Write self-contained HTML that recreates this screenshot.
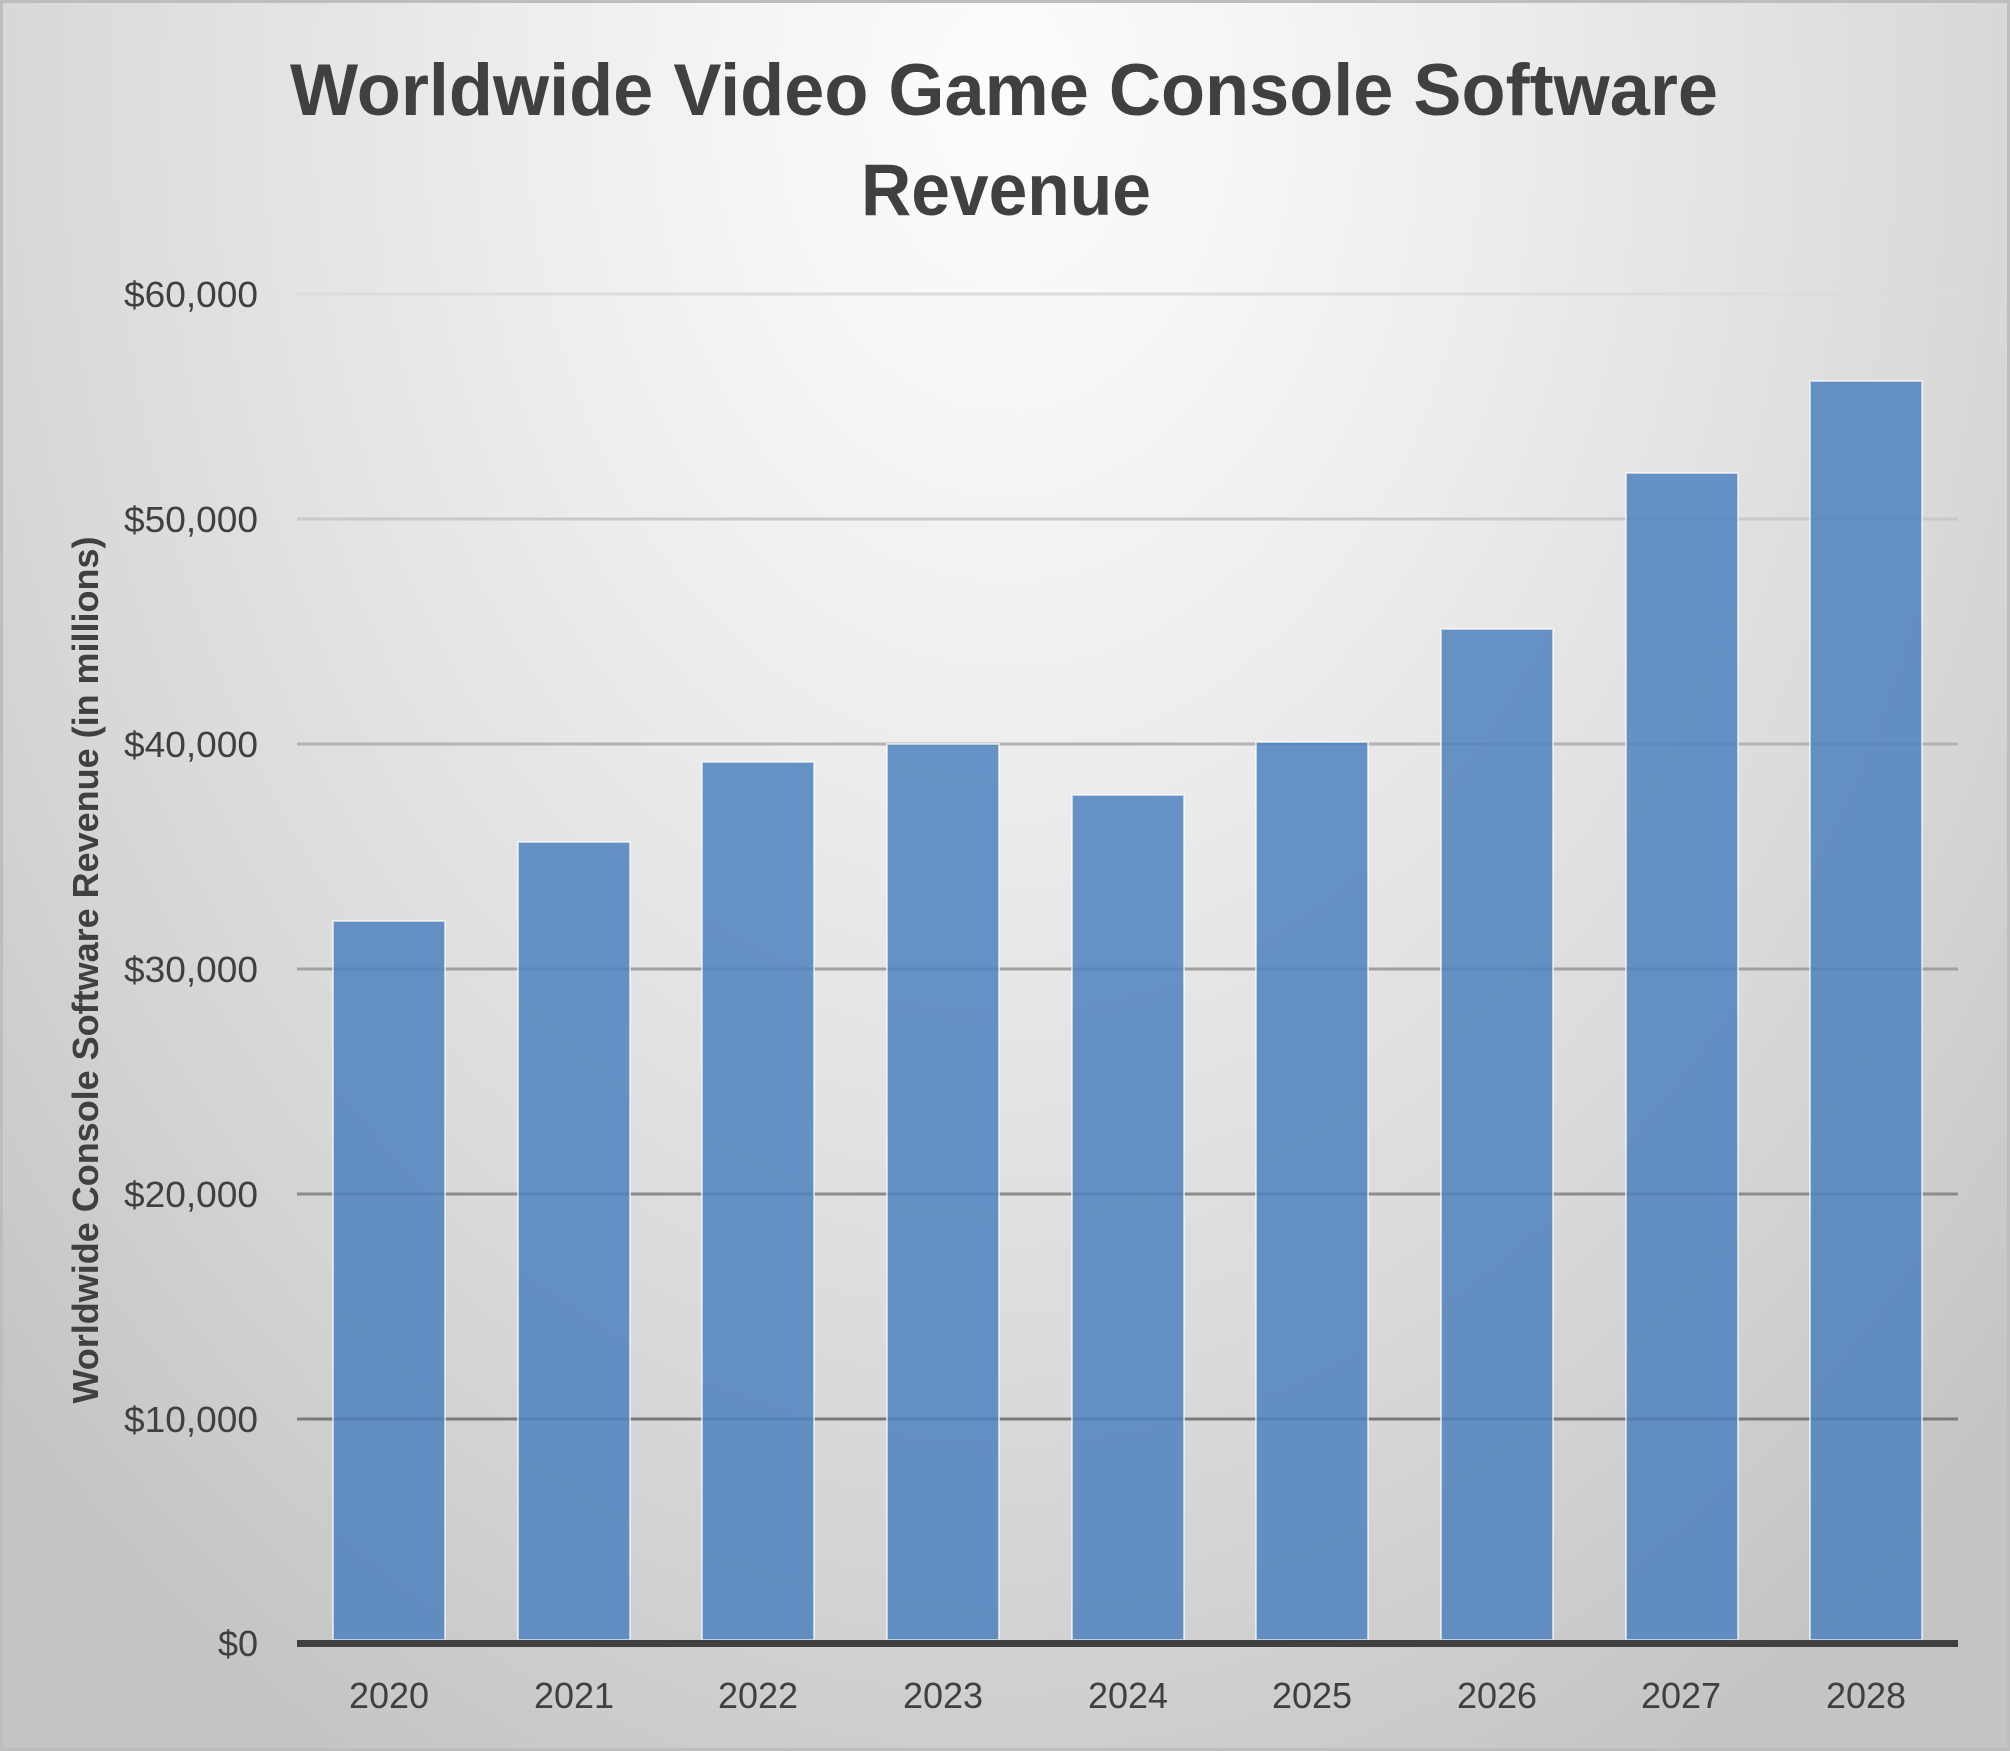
<!DOCTYPE html>
<html>
<head>
<meta charset="utf-8">
<style>
  html, body { margin: 0; padding: 0; background: #ffffff; }
  svg { display: block; }
  text { font-family: "Liberation Sans", "DejaVu Sans", sans-serif; }
</style>
</head>
<body>
<svg width="2010" height="1751" viewBox="0 0 2010 1751" xmlns="http://www.w3.org/2000/svg">
  <defs>
    <radialGradient id="bg" gradientUnits="userSpaceOnUse" cx="1005" cy="100" r="1400"
                    gradientTransform="translate(1005 100) scale(1 1.36) translate(-1005 -100)">
      <stop offset="0" stop-color="#fdfdfd"/>
      <stop offset="0.35" stop-color="#ededed"/>
      <stop offset="0.7" stop-color="#d9d9d9"/>
      <stop offset="1" stop-color="#c4c4c4"/>
    </radialGradient>
  </defs>

  <!-- background -->
  <rect x="0" y="0" width="2010" height="1751" fill="url(#bg)"/>
  <rect x="1.5" y="1.5" width="2007" height="1748" fill="none" stroke="#bdbdbd" stroke-width="3"/>

  <!-- title -->
  <g fill="#404040" font-weight="bold" font-size="73" text-anchor="middle">
    <text x="1004" y="115" textLength="1428" lengthAdjust="spacingAndGlyphs">Worldwide Video Game Console Software</text>
    <text x="1006" y="215" textLength="290" lengthAdjust="spacingAndGlyphs">Revenue</text>
  </g>

  <!-- gridlines -->
  <g stroke-width="3">
    <line x1="297" y1="294" x2="1958" y2="294" stroke="#dcdcdc"/>
    <line x1="297" y1="519" x2="1958" y2="519" stroke="#c9c9c9"/>
    <line x1="297" y1="744" x2="1958" y2="744" stroke="#b3b3b3"/>
    <line x1="297" y1="969" x2="1958" y2="969" stroke="#a0a0a0"/>
    <line x1="297" y1="1194" x2="1958" y2="1194" stroke="#8c8c8c"/>
    <line x1="297" y1="1419" x2="1958" y2="1419" stroke="#7a7a7a"/>
  </g>

  <!-- bars -->
  <g fill="#4f81bd" fill-opacity="0.85" stroke="#ffffff" stroke-opacity="0.6" stroke-width="2">
    <rect x="333" y="921" width="112" height="719"/>
    <rect x="518" y="842" width="112" height="798"/>
    <rect x="702" y="762" width="112" height="878"/>
    <rect x="887" y="744" width="112" height="896"/>
    <rect x="1072" y="795" width="112" height="845"/>
    <rect x="1256" y="742" width="112" height="898"/>
    <rect x="1441" y="629" width="112" height="1011"/>
    <rect x="1626" y="473" width="112" height="1167"/>
    <rect x="1810" y="381" width="112" height="1259"/>
  </g>

  <!-- x axis line -->
  <line x1="297" y1="1643.5" x2="1958" y2="1643.5" stroke="#404040" stroke-width="7"/>

  <!-- y tick labels -->
  <g fill="#404040" font-size="36" text-anchor="end">
    <text x="258" y="307" textLength="134" lengthAdjust="spacingAndGlyphs">$60,000</text>
    <text x="258" y="532" textLength="134" lengthAdjust="spacingAndGlyphs">$50,000</text>
    <text x="258" y="757" textLength="134" lengthAdjust="spacingAndGlyphs">$40,000</text>
    <text x="258" y="982" textLength="134" lengthAdjust="spacingAndGlyphs">$30,000</text>
    <text x="258" y="1207" textLength="134" lengthAdjust="spacingAndGlyphs">$20,000</text>
    <text x="258" y="1432" textLength="134" lengthAdjust="spacingAndGlyphs">$10,000</text>
    <text x="258" y="1656">$0</text>
  </g>

  <!-- x tick labels -->
  <g fill="#404040" font-size="36" text-anchor="middle">
    <text x="389" y="1708">2020</text>
    <text x="574" y="1708">2021</text>
    <text x="758" y="1708">2022</text>
    <text x="943" y="1708">2023</text>
    <text x="1128" y="1708">2024</text>
    <text x="1312" y="1708">2025</text>
    <text x="1497" y="1708">2026</text>
    <text x="1681" y="1708">2027</text>
    <text x="1866" y="1708">2028</text>
  </g>

  <!-- y axis title -->
  <text x="0" y="0" transform="translate(98 970) rotate(-90)" fill="#404040" font-weight="bold"
        font-size="36" text-anchor="middle" textLength="867" lengthAdjust="spacingAndGlyphs">Worldwide Console Software Revenue (in millions)</text>
</svg>
</body>
</html>
